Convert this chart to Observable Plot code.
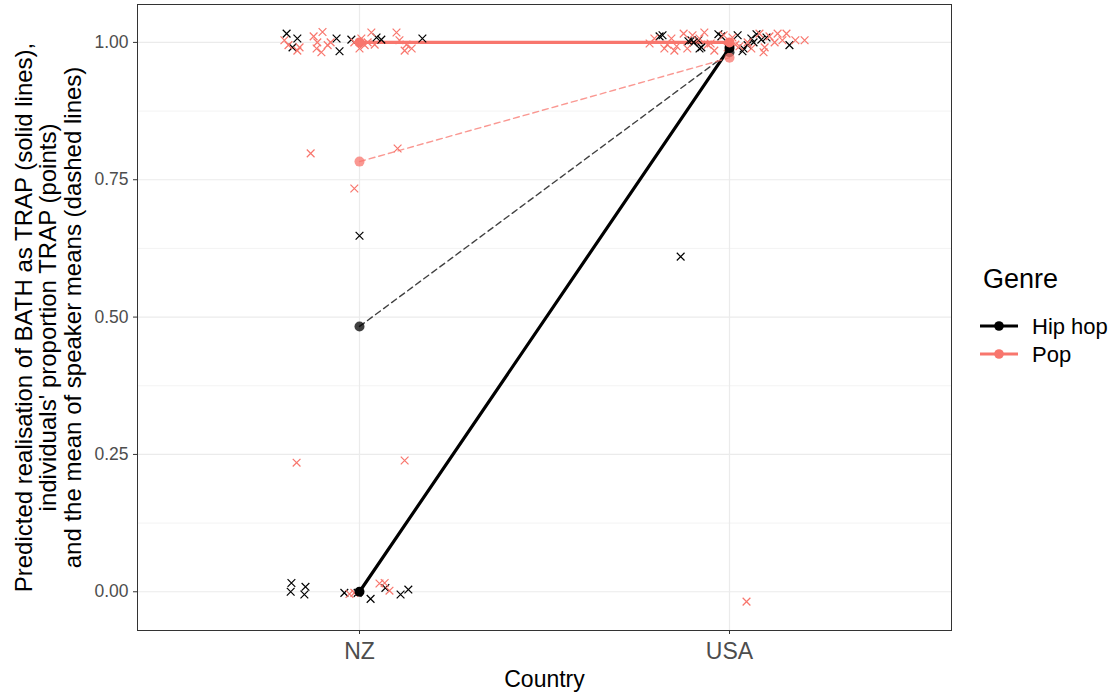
<!DOCTYPE html>
<html>
<head>
<meta charset="utf-8">
<script src="https://cdn.jsdelivr.net/npm/d3@7"></script>
<script src="https://cdn.jsdelivr.net/npm/@observablehq/plot@0.6"></script>
<style>
  body { margin: 0; background: #fff; font-family: "Liberation Sans", Arial, sans-serif; }
  #wrap { position: relative; width: 1117px; height: 693px; }
  #legend { position: absolute; left: 0; top: 0; pointer-events: none; }
</style>
</head>
<body>
<div id="wrap"></div>
<script>
// Categories
const countries = ["NZ", "USA"];
const genres = ["Hip hop", "Pop"];
const genreColors = ["#000000", "#F8766D"];

// Model predictions (NZ, USA)
const predHipHop = [0.0, 0.99];
const predPop = [1.0, 1.0];

// Mean of speaker proportions (NZ, USA)
const meanHipHop = [0.483, 0.982];
const meanPop = [0.783, 0.972];

// Individual speakers: horizontal jitter and proportion TRAP (values carry a little vertical jitter)
const nzHipHopJitter = [-0.197, -0.168, -0.181, -0.062, -0.054, -0.022, 0.046, 0.059, 0.170, 0.000,
  -0.184, -0.186, -0.146, -0.149, -0.041, -0.005, 0.030, 0.070, 0.111, 0.132];
const nzHipHopProp = [1.016, 1.007, 0.991, 1.007, 0.984, 1.005, 1.009, 1.005, 1.007, 0.648,
  0.016, 0.000, 0.009, -0.005, -0.002, -0.002, -0.013, 0.007, -0.005, 0.004];

const nzPopJitter = [-0.203, -0.192, -0.168, -0.162, -0.124, -0.114, -0.100, -0.116, -0.103, -0.086,
  -0.078, -0.014, 0.005, 0.014, 0.022, 0.032, 0.041, 0.100, 0.108, 0.122, 0.127, 0.141, 0.000,
  -0.132, 0.103, -0.014, -0.170, 0.122, -0.027, -0.014, 0.054, 0.068, 0.081];
const nzPopProp = [1.004, 0.995, 0.985, 0.991, 1.011, 1.000, 1.019, 0.989, 0.982, 0.995,
  1.000, 1.000, 1.007, 0.995, 1.000, 1.018, 0.996, 1.018, 1.004, 0.985, 0.996, 0.989, 0.989,
  0.798, 0.807, 0.734, 0.235, 0.239, -0.004, -0.002, 0.015, 0.016, 0.002];

const usaHipHopJitter = [-0.189, -0.181, -0.111, -0.097, -0.084, -0.076, -0.030, -0.022, 0.022, 0.035,
  0.049, 0.059, 0.073, 0.086, 0.100, 0.162, 0.038, 0.065, -0.081, -0.103, -0.132];
const usaHipHopProp = [1.011, 1.013, 1.002, 1.000, 1.004, 0.991, 1.015, 1.011, 1.013, 0.984,
  0.995, 1.007, 1.015, 1.005, 1.009, 0.995, 0.989, 1.000, 0.989, 1.004, 0.610];

const usaPopJitter = [-0.216, -0.203, -0.176, -0.168, -0.157, -0.149, -0.143, -0.124, -0.114, -0.100,
  -0.081, -0.068, -0.059, -0.051, -0.041, -0.016, -0.005, 0.008, 0.016, 0.027,
  0.049, 0.059, 0.081, 0.095, 0.108, 0.122, 0.130, 0.143, 0.154, 0.178, 0.203, 0.092, 0.046];
const usaPopProp = [0.998, 1.007, 0.989, 0.996, 1.007, 0.985, 0.993, 1.016, 0.989, 1.013,
  1.007, 1.018, 0.996, 0.998, 0.985, 1.013, 0.991, 1.009, 0.996, 0.993,
  1.000, 0.989, 1.016, 0.991, 1.011, 1.000, 1.016, 1.004, 1.016, 1.004, 1.004, 0.982, -0.018];

// Axis ticks
const yTicks = [0, 0.25, 0.5, 0.75, 1];
const yMinorTicks = [0.125, 0.375, 0.625, 0.875];
const yTitle = "Predicted realisation of BATH as TRAP (solid lines),\nindividuals' proportion TRAP (points)\nand the mean of speaker means (dashed lines)";
const xTitle = "Country";

// Build tables: country index 1 = NZ, 2 = USA
const predRows = [
  ...countries.map((c, i) => ({genre: "Hip hop", x: i + 1, y: predHipHop[i]})),
  ...countries.map((c, i) => ({genre: "Pop", x: i + 1, y: predPop[i]}))
];
const meanRows = [
  ...countries.map((c, i) => ({genre: "Hip hop", x: i + 1, y: meanHipHop[i]})),
  ...countries.map((c, i) => ({genre: "Pop", x: i + 1, y: meanPop[i]}))
];
const speakers = (genre, ci, jit, prop) => jit.map((j, k) => ({genre, x: ci + j, y: prop[k]}));
const speakerRows = [
  ...speakers("Hip hop", 1, nzHipHopJitter, nzHipHopProp),
  ...speakers("Pop", 1, nzPopJitter, nzPopProp),
  ...speakers("Hip hop", 2, usaHipHopJitter, usaHipHopProp),
  ...speakers("Pop", 2, usaPopJitter, usaPopProp)
];

const font = "'Liberation Sans', Arial, sans-serif";

const chart = Plot.plot({
  width: 1117,
  height: 693,
  marginLeft: 137,
  marginRight: 166,
  marginTop: 4,
  marginBottom: 63,
  style: {fontFamily: font, background: "#fff", overflow: "visible"},
  x: {domain: [0.4, 2.6]},
  y: {domain: [-0.0705, 1.069]},
  color: {domain: genres, range: genreColors},
  marks: [
    Plot.gridY(yMinorTicks, {stroke: "#ebebeb", strokeOpacity: 1, strokeWidth: 0.6}),
    Plot.gridY(yTicks, {stroke: "#ebebeb", strokeOpacity: 1, strokeWidth: 1.2}),
    Plot.gridX([1, 2], {stroke: "#ebebeb", strokeOpacity: 1, strokeWidth: 1.2}),
    Plot.line(predRows, {x: "x", y: "y", z: "genre", stroke: "genre", strokeWidth: 3.2}),
    Plot.line(meanRows, {x: "x", y: "y", z: "genre", stroke: "genre", strokeWidth: 1.4,
      strokeOpacity: 0.75, strokeDasharray: "6,4"}),
    Plot.dot(speakerRows, {x: "x", y: "y", stroke: "genre", symbol: "times", r: 3.6, strokeWidth: 1.2}),
    Plot.dot(meanRows, {x: "x", y: "y", fill: "genre", fillOpacity: 0.75, r: 5}),
    Plot.dot(predRows, {x: "x", y: "y", fill: "genre", r: 5}),
    Plot.frame({stroke: "#333", strokeWidth: 1}),
    Plot.axisY(yTicks, {tickFormat: d3.format(".2f"), tickSize: 4, tickPadding: 5,
      fontSize: 17.5, fill: "#4d4d4d", stroke: "#333", label: null}),
    Plot.axisX([1, 2], {tickFormat: d => countries[d - 1], tickSize: 4, tickPadding: 8,
      fontSize: 23, fill: "#4d4d4d", stroke: "#333", label: null}),
    Plot.text([yTitle], {frameAnchor: "left", rotate: -90, dx: -89, fontSize: 24,
      lineHeight: 1.02, textAnchor: "middle", lineAnchor: "middle", fill: "#000"}),
    Plot.text([xTitle], {frameAnchor: "bottom", dy: 56, fontSize: 23,
      lineAnchor: "bottom", textAnchor: "middle", fill: "#000"})
  ]
});

const wrap = document.getElementById("wrap");
wrap.appendChild(chart);

// Legend for genre
const legend = d3.select(wrap).append("svg")
  .attr("id", "legend")
  .attr("width", 1117).attr("height", 693)
  .style("font-family", font);
legend.append("text")
  .attr("x", 983).attr("y", 288)
  .attr("font-size", 27)
  .text("Genre");
genres.forEach((g, i) => {
  const cy = 326 + i * 28;
  legend.append("line")
    .attr("x1", 980).attr("x2", 1018).attr("y1", cy).attr("y2", cy)
    .attr("stroke", genreColors[i]).attr("stroke-width", 3.2);
  legend.append("circle")
    .attr("cx", 999).attr("cy", cy).attr("r", 4.8)
    .attr("fill", genreColors[i]);
  legend.append("text")
    .attr("x", 1032).attr("y", cy)
    .attr("dy", "0.35em")
    .attr("font-size", 22)
    .text(g);
});
</script>
</body>
</html>
